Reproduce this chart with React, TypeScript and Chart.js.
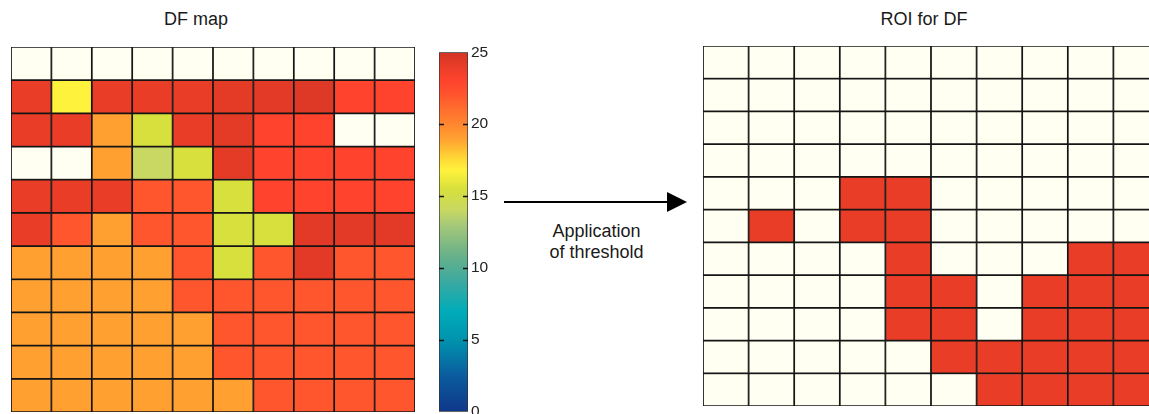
import React, { useEffect, useRef } from "react";
import { Chart, registerables } from "chart.js";

Chart.register(...registerables);

// ---------- data ----------
const columnLabels = ["1", "2", "3", "4", "5", "6", "7", "8", "9", "10"];

// DF map values (top row first); null = no data
const dfRow1 = [null, null, null, null, null, null, null, null, null, null];
const dfRow2 = [24, 16.8, 24, 24, 24, 24.2, 24.3, 24.5, 23, 23];
const dfRow3 = [24, 24, 19, 15.5, 24, 24.2, 23, 23, null, null];
const dfRow4 = [null, null, 19, 14, 15.5, 24.2, 23, 23, 23, 23];
const dfRow5 = [24, 24, 24, 22, 22, 15.5, 23, 23, 23, 23];
const dfRow6 = [24, 22, 19, 22, 22, 15.5, 15.5, 24.3, 24.3, 24.3];
const dfRow7 = [19, 19, 19, 19, 22, 15.5, 22, 24.3, 22, 22];
const dfRow8 = [19, 19, 19, 19, 22, 22, 22, 22, 22, 22];
const dfRow9 = [19, 19, 19, 19, 19, 22, 22, 22, 22, 22];
const dfRow10 = [19, 19, 19, 19, 19, 22, 22, 22, 22, 22];
const dfRow11 = [19, 19, 19, 19, 19, 19, 22, 22, 22, 22];
const dfRows = [dfRow1, dfRow2, dfRow3, dfRow4, dfRow5, dfRow6, dfRow7, dfRow8, dfRow9, dfRow10, dfRow11];

// ROI mask after threshold (1 = inside ROI)
const roiRow1 = [0, 0, 0, 0, 0, 0, 0, 0, 0, 0];
const roiRow2 = [0, 0, 0, 0, 0, 0, 0, 0, 0, 0];
const roiRow3 = [0, 0, 0, 0, 0, 0, 0, 0, 0, 0];
const roiRow4 = [0, 0, 0, 0, 0, 0, 0, 0, 0, 0];
const roiRow5 = [0, 0, 0, 1, 1, 0, 0, 0, 0, 0];
const roiRow6 = [0, 1, 0, 1, 1, 0, 0, 0, 0, 0];
const roiRow7 = [0, 0, 0, 0, 1, 0, 0, 0, 1, 1];
const roiRow8 = [0, 0, 0, 0, 1, 1, 0, 1, 1, 1];
const roiRow9 = [0, 0, 0, 0, 1, 1, 0, 1, 1, 1];
const roiRow10 = [0, 0, 0, 0, 0, 1, 1, 1, 1, 1];
const roiRow11 = [0, 0, 0, 0, 0, 0, 1, 1, 1, 1];
const roiRows = [roiRow1, roiRow2, roiRow3, roiRow4, roiRow5, roiRow6, roiRow7, roiRow8, roiRow9, roiRow10, roiRow11];

// colour scale
const cmapValues = [0, 2.5, 5, 7, 9, 11, 13, 14, 15.5, 16.8, 17.8, 19, 20.5, 22, 23, 24, 25];
const cmapColors = [
  "#10378a", "#0a5c9e", "#0093ae", "#00acb8", "#3aa9a2", "#6cb288", "#a6c878",
  "#c8d862", "#d7e03c", "#fff23c", "#ffd034", "#ffa031", "#ff7a2e", "#ff562d",
  "#ff432d", "#e93d28", "#d23424",
];
const colorbarMin = 0;
const colorbarMax = 25;
const colorbarTicks = [5, 10, 15, 20];

const NODATA_COLOR = "#fffff2";
const ROI_COLOR = "#e93d28";
const GRID_COLOR = "#151515";
const FONT = "'Liberation Sans', Arial, Helvetica, sans-serif";

function hexToRgb(h: string) {
  const n = parseInt(h.slice(1), 16);
  return [(n >> 16) & 255, (n >> 8) & 255, n & 255];
}

function colorFor(v: number | null): string {
  if (v === null || v === undefined) return NODATA_COLOR;
  if (v <= cmapValues[0]) return cmapColors[0];
  for (let i = 1; i < cmapValues.length; i++) {
    if (v <= cmapValues[i]) {
      const t = (v - cmapValues[i - 1]) / (cmapValues[i] - cmapValues[i - 1]);
      const a = hexToRgb(cmapColors[i - 1]);
      const b = hexToRgb(cmapColors[i]);
      const c = a.map((x, k) => Math.round(x + (b[k] - x) * t));
      return `rgb(${c[0]},${c[1]},${c[2]})`;
    }
  }
  return cmapColors[cmapColors.length - 1];
}

function heatmapConfig(rows: any[][], colorOf: (v: any) => string): any {
  return {
    type: "bar",
    data: {
      labels: columnLabels,
      datasets: rows.map((row, r) => ({
        label: `row ${r + 1}`,
        data: row.map(() => 1),
        backgroundColor: row.map(colorOf),
        borderColor: GRID_COLOR,
        borderWidth: 1.2,
        borderSkipped: false,
        barPercentage: 1,
        categoryPercentage: 1,
      })),
    },
    options: {
      responsive: false,
      maintainAspectRatio: false,
      animation: false,
      layout: { padding: 0 },
      plugins: { legend: { display: false }, tooltip: { enabled: false }, title: { display: false } },
      scales: {
        x: { display: false, stacked: true },
        y: { display: false, stacked: true, reverse: true, min: 0, max: rows.length },
      },
    },
  };
}

const colorbarTickPlugin = {
  id: "colorbarTicks",
  afterDatasetsDraw(chart: any) {
    const { ctx, chartArea, scales } = chart;
    const y = scales.y;
    ctx.save();
    ctx.strokeStyle = "#111";
    ctx.lineWidth = 1.5;
    for (const v of colorbarTicks) {
      const py = Math.round(y.getPixelForValue(v)) + 0.5;
      ctx.beginPath();
      ctx.moveTo(chartArea.left, py);
      ctx.lineTo(chartArea.left + 5, py);
      ctx.moveTo(chartArea.right - 5, py);
      ctx.lineTo(chartArea.right, py);
      ctx.stroke();
    }
    ctx.restore();
  },
};

function colorbarConfig(): any {
  return {
    type: "bar",
    data: {
      labels: ["DF"],
      datasets: [
        {
          label: "DF",
          data: [[colorbarMin, colorbarMax]],
          backgroundColor: (c: any) => {
            const chart = c.chart;
            if (!chart.chartArea) return cmapColors[0];
            const y = chart.scales.y;
            const g = chart.ctx.createLinearGradient(0, y.getPixelForValue(colorbarMin), 0, y.getPixelForValue(colorbarMax));
            cmapValues.forEach((v, i) => g.addColorStop((v - colorbarMin) / (colorbarMax - colorbarMin), cmapColors[i]));
            return g;
          },
          borderColor: "#333",
          borderWidth: 1,
          borderSkipped: false,
          barPercentage: 1,
          categoryPercentage: 1,
        },
      ],
    },
    options: {
      responsive: false,
      maintainAspectRatio: false,
      animation: false,
      layout: { padding: { top: 9, bottom: 10, left: 0, right: 0 } },
      plugins: { legend: { display: false }, tooltip: { enabled: false } },
      scales: {
        x: { display: false },
        y: {
          position: "right",
          min: colorbarMin,
          max: colorbarMax,
          ticks: { stepSize: 5, padding: 3, color: "#222", font: { family: FONT, size: 15.5 } },
          grid: { display: false, drawTicks: false },
          border: { display: false },
          afterFit: (scale: any) => {
            scale.width = 30;
          },
        },
      },
    },
    plugins: [colorbarTickPlugin],
  };
}

function ChartCanvas(props: { make: () => any; left: number; top: number; width: number; height: number }) {
  const ref = useRef<HTMLCanvasElement | null>(null);
  useEffect(() => {
    if (!ref.current) return;
    const chart = new Chart(ref.current, props.make());
    return () => chart.destroy();
  }, []);
  return (
    <canvas
      ref={ref}
      width={props.width}
      height={props.height}
      style={{ position: "absolute", left: props.left, top: props.top, width: props.width, height: props.height }}
    />
  );
}

const textStyle: React.CSSProperties = {
  position: "absolute",
  fontFamily: FONT,
  fontSize: 18,
  lineHeight: "21px",
  color: "#1a1a1a",
  textAlign: "center",
  whiteSpace: "nowrap",
  transform: "translateX(-50%)",
};

export default function App() {
  return (
    <div
      style={{
        position: "fixed",
        left: 0,
        top: 0,
        width: 1149,
        height: 414,
        overflow: "hidden",
        background: "#ffffff",
      }}
    >
      <div style={{ ...textStyle, left: 196, top: 9 }}>DF map</div>
      <div style={{ ...textStyle, left: 924, top: 9 }}>ROI for DF</div>

      <ChartCanvas make={() => heatmapConfig(dfRows, colorFor)} left={11} top={47} width={404} height={365} />
      <ChartCanvas make={colorbarConfig} left={439} top={40} width={59} height={384} />

      {/* arrow */}
      <div style={{ position: "absolute", left: 504, top: 201, width: 164, height: 2, background: "#000" }} />
      <div
        style={{
          position: "absolute",
          left: 667,
          top: 192,
          width: 0,
          height: 0,
          borderLeft: "20px solid #000",
          borderTop: "10.5px solid transparent",
          borderBottom: "10.5px solid transparent",
        }}
      />
      <div style={{ ...textStyle, left: 596.5, top: 221 }}>
        Application
        <br />
        of threshold
      </div>

      <ChartCanvas
        make={() => heatmapConfig(roiRows, (v: number) => (v ? ROI_COLOR : NODATA_COLOR))}
        left={703}
        top={46}
        width={456}
        height={360}
      />
    </div>
  );
}
